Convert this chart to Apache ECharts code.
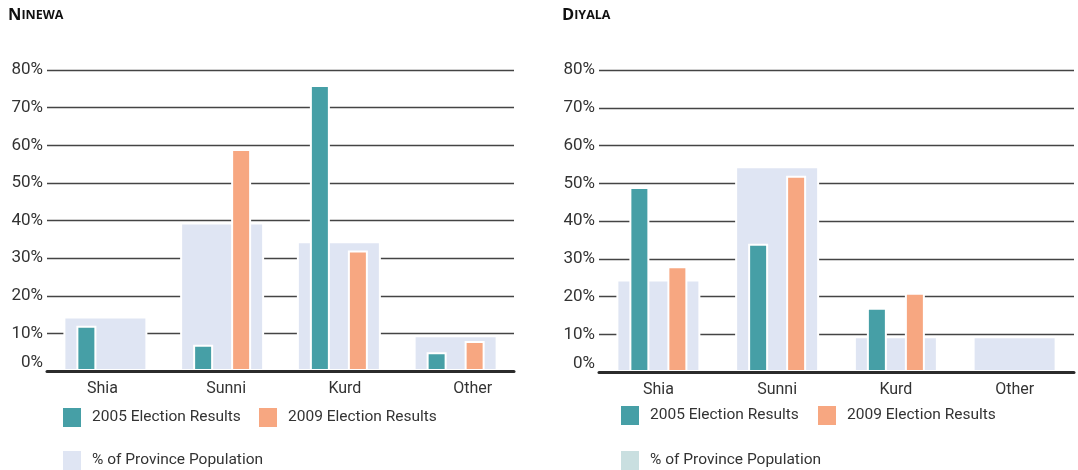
<!DOCTYPE html>
<html>
<head>
<meta charset="utf-8">
<script src="https://cdn.jsdelivr.net/npm/echarts@6/dist/echarts.min.js"></script>
<style>
  html, body { margin: 0; padding: 0; background: #fff; }
  #chart { width: 1078px; height: 470px; }
</style>
</head>
<body>
<div id="chart"></div>
<script>
// categories and values (percent)
var groups = ['Shia', 'Sunni', 'Kurd', 'Other']
var yTicks = [0, 10, 20, 30, 40, 50, 60, 70, 80]

var ninewa2005 = [12, 7, 76, 5]
var ninewa2009 = [null, 59, 32, 8]
var ninewaPop = [14.5, 39.5, 34.5, 9.5]

var diyala2005 = [49, 34, 17, null]
var diyala2009 = [28, 52, 21, null]
var diyalaPop = [24.5, 54.5, 9.5, 9.5]

var TEAL = '#469fa6'
var ORANGE = '#f7a781'
var POP = '#dfe5f3'
var INK = '#333'
var FONT = 'Roboto'

var myChart = echarts.init(document.getElementById('chart'))

// the Ninewa category labels sit a little right of their bars
var ninewaNudge = { Shia: [0, 6, 0, 0], Sunni: [0, 0, 0, 8], Kurd: [0, 0, 0, 12], Other: [0, 0, 0, 34] }

function xAxes (gridIndex, nudge) {
  var label = { color: INK, fontSize: 16, fontFamily: FONT, margin: 10 }
  if (nudge) {
    var rich = {}
    groups.forEach(function (g, i) {
      rich['c' + i] = { color: INK, fontSize: 16, fontFamily: FONT, padding: nudge[g] }
    })
    label.rich = rich
    label.formatter = function (v, i) { return '{c' + i + '|' + v + '}' }
  }
  return [
    {
      type: 'category',
      gridIndex: gridIndex,
      data: groups,
      z: 5,
      axisLine: { lineStyle: { color: '#2b2b2b', width: 3 } },
      axisTick: { show: false },
      axisLabel: label
    },
    {
      type: 'category',
      gridIndex: gridIndex,
      data: groups,
      show: false
    }
  ]
}

function yAxis (gridIndex) {
  return {
    type: 'value',
    gridIndex: gridIndex,
    min: yTicks[0],
    max: yTicks[yTicks.length - 1],
    interval: 10,
    axisLine: { show: false },
    axisTick: { show: false },
    splitLine: { lineStyle: { color: '#444', width: 1.3 } },
    axisLabel: {
      color: INK,
      fontSize: 17,
      fontFamily: FONT,
      margin: 4,
      formatter: function (v) { return v === 0 ? '{z|0%}' : v + '%' },
      rich: { z: { fontSize: 17, fontFamily: FONT, color: INK, padding: [0, 0, 16, 0] } }
    }
  }
}

function bars (gridIndex, v2005, v2009, pop) {
  var ax = gridIndex * 2
  var border = { borderColor: '#fff', borderWidth: 2 }
  return [
    {
      name: '% of Province Population',
      type: 'bar',
      xAxisIndex: ax + 1,
      yAxisIndex: gridIndex,
      barWidth: 84,
      z: 1,
      itemStyle: Object.assign({ color: POP }, border),
      data: pop
    },
    {
      name: '2005 Election Results',
      type: 'bar',
      xAxisIndex: ax,
      yAxisIndex: gridIndex,
      barWidth: 20,
      barGap: '90%',
      z: 2,
      itemStyle: Object.assign({ color: TEAL }, border),
      data: v2005
    },
    {
      name: '2009 Election Results',
      type: 'bar',
      xAxisIndex: ax,
      yAxisIndex: gridIndex,
      barWidth: 20,
      barGap: '90%',
      z: 2,
      itemStyle: Object.assign({ color: ORANGE }, border),
      data: v2009
    }
  ]
}

function legendItem (name, left, top, color) {
  var item = { name: name }
  if (color) item.itemStyle = { color: color, borderWidth: 0 }
  return {
    data: [item],
    left: left,
    top: top,
    icon: 'rect',
    itemWidth: 18,
    itemHeight: 19,
    padding: 0,
    selectedMode: false,
    itemStyle: { borderWidth: 0 },
    textStyle: { color: INK, fontSize: 15.5, fontFamily: FONT, padding: [3, 0, 0, 6] }
  }
}

function titleItem (first, rest, left) {
  return {
    text: '{a|' + first + '}{b|' + rest + '}',
    left: left,
    top: 7,
    padding: 0,
    textStyle: {
      rich: {
        a: { fontSize: 16.5, fontWeight: 'bold', fontFamily: 'Open Sans', color: '#111' },
        b: { fontSize: 12.5, fontWeight: 'bold', fontFamily: 'Open Sans', color: '#111' }
      }
    }
  }
}

myChart.setOption({
  animation: false,
  title: [
    titleItem('N', 'INEWA', 8),
    titleItem('D', 'IYALA', 562)
  ],
  grid: [
    { left: 47, right: 564, top: 70, bottom: 99 },
    { left: 599, right: 4, top: 70, bottom: 98 }
  ],
  legend: [
    legendItem('2005 Election Results', 63, 408),
    legendItem('2009 Election Results', 259, 408),
    legendItem('% of Province Population', 63, 451),
    legendItem('2005 Election Results', 621, 406),
    legendItem('2009 Election Results', 818, 406),
    legendItem('% of Province Population', 621, 451, '#c9dfe0')
  ],
  xAxis: xAxes(0, ninewaNudge).concat(xAxes(1)),
  yAxis: [yAxis(0), yAxis(1)],
  series: bars(0, ninewa2005, ninewa2009, ninewaPop).concat(bars(1, diyala2005, diyala2009, diyalaPop))
})
</script>
</body>
</html>
